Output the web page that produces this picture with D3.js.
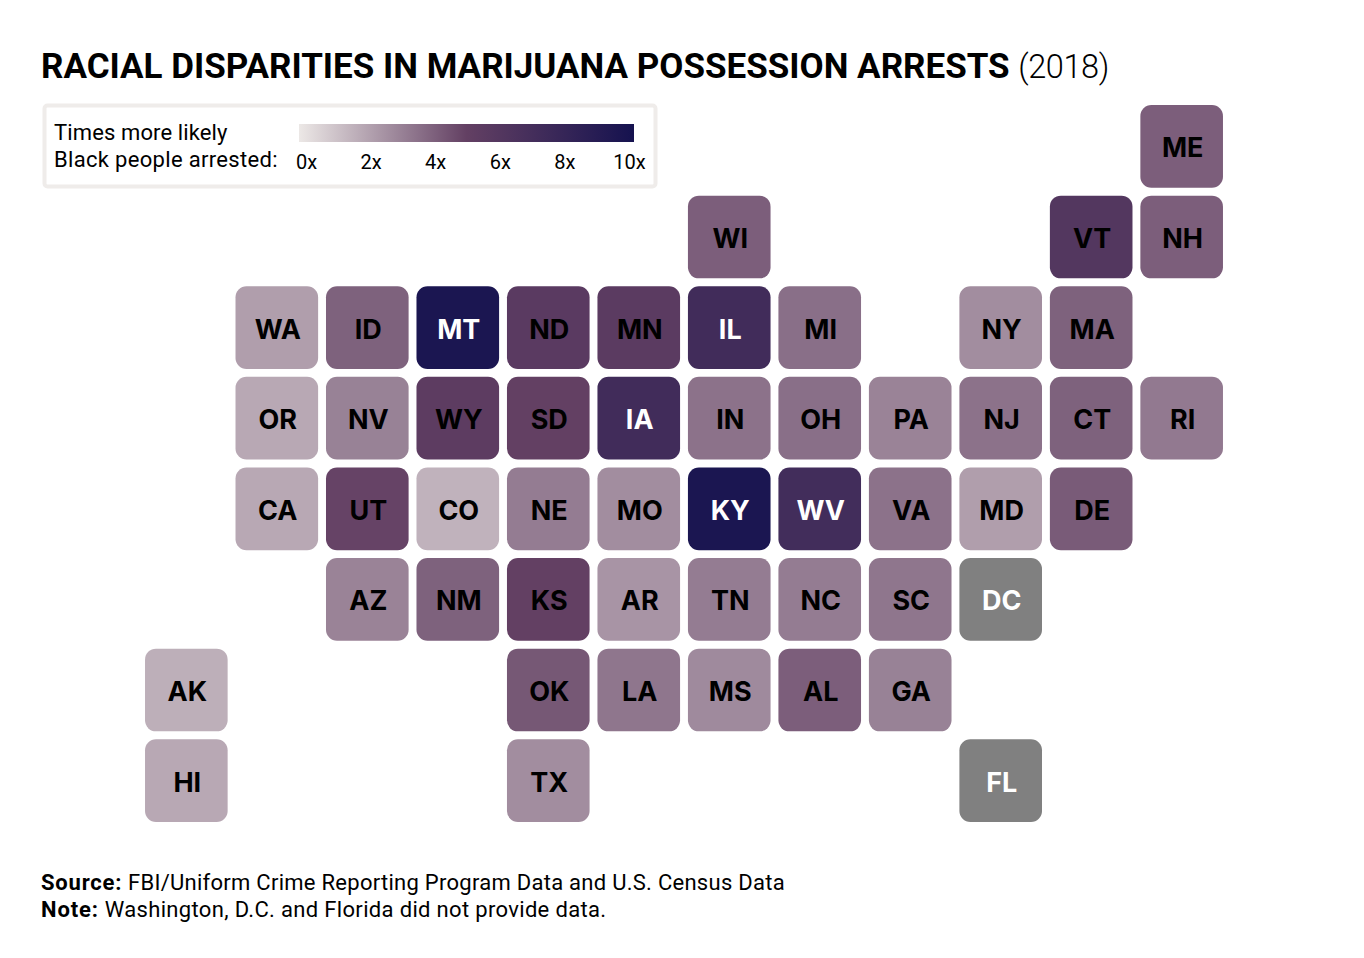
<!DOCTYPE html>
<html>
<head>
<meta charset="utf-8">
<script src="https://cdn.jsdelivr.net/npm/d3@7"></script>
<style>
  html, body { margin: 0; padding: 0; background: #fff; }
  svg { display: block; }
  text { font-family: Roboto, sans-serif; fill: #000; }
</style>
</head>
<body>
<svg id="chart" width="1364" height="958"></svg>
<script>
// tile map rows, null = empty cell
var grid_rows = [
  [null, null, null, null, null, null, null, null, null, null, null, "ME"],
  [null, null, null, null, null, null, "WI", null, null, null, "VT", "NH"],
  [null, "WA", "ID", "MT", "ND", "MN", "IL", "MI", null, "NY", "MA", null],
  [null, "OR", "NV", "WY", "SD", "IA", "IN", "OH", "PA", "NJ", "CT", "RI"],
  [null, "CA", "UT", "CO", "NE", "MO", "KY", "WV", "VA", "MD", "DE", null],
  [null, null, "AZ", "NM", "KS", "AR", "TN", "NC", "SC", "DC", null, null],
  ["AK", null, null, null, "OK", "LA", "MS", "AL", "GA", null, null, null],
  ["HI", null, null, null, "TX", null, null, null, null, "FL", null, null]
];

var states = ["ME","WI","VT","NH","WA","ID","MT","ND","MN","IL","MI","NY","MA",
  "OR","NV","WY","SD","IA","IN","OH","PA","NJ","CT","RI",
  "CA","UT","CO","NE","MO","KY","WV","VA","MD","DE",
  "AZ","NM","KS","AR","TN","NC","SC","DC",
  "AK","OK","LA","MS","AL","GA","HI","TX","FL"];

// read from the tile colours, null = no data
var ratios = [4.1,4.1,6.0,4.1,2.2,4.0,9.6,5.6,5.5,7.2,3.6,2.7,4.0,
  1.9,3.05,5.4,5.0,7.2,3.5,3.6,3.0,3.5,4.0,3.3,
  1.9,4.9,1.6,3.2,2.7,9.6,7.1,3.5,2.2,4.2,
  3.0,4.0,5.0,2.5,3.2,3.2,3.4,null,
  1.7,4.3,3.4,2.8,4.1,3.05,1.9,2.7,null];

var legend_ticks = [0, 2, 4, 6, 8, 10];
var color_stops = [0, 5, 10];
var color_range = ["#ece8e6", "#634063", "#15124f"];
var white_labels = ["MT", "IL", "IA", "KY", "WV", "DC", "FL"];

var svg = d3.select("#chart");

var color = d3.scaleLinear().domain(color_stops).range(color_range);

var ratio_by_state = {};
states.forEach(function(d, i){
  ratio_by_state[d] = ratios[i];
});

var x = d3.scaleBand().domain(d3.range(12)).range([140.5, 1227.5]).paddingInner(0.087).paddingOuter(0.05);
var y = d3.scaleBand().domain(d3.range(8)).range([100.5, 826.5]).paddingInner(0.087).paddingOuter(0.05);

var tiles = [];
grid_rows.forEach(function(row, r){
  row.forEach(function(s, c){
    if(s){
      tiles.push({state: s, row: r, col: c, ratio: ratio_by_state[s]});
    }
  });
});

// title
var title = svg.append("text")
  .attr("x", 41)
  .attr("y", 78)
  .style("font-size", "35px");
title.append("tspan").style("font-weight", 700).text("RACIAL DISPARITIES IN MARIJUANA POSSESSION ARRESTS");
title.append("tspan").attr("dx", 1).style("font-weight", 300).style("font-size", "32.5px").style("letter-spacing", "-0.4px").text(" (2018)");

// legend box
svg.append("rect")
  .attr("x", 44.5).attr("y", 105.5)
  .attr("width", 611).attr("height", 81)
  .attr("rx", 3)
  .attr("fill", "#fff")
  .attr("stroke", "#efecea")
  .attr("stroke-width", 4);

svg.append("text").attr("x", 54).attr("y", 140).style("font-size", "22px").style("letter-spacing", "0.12px").text("Times more likely");
svg.append("text").attr("x", 54).attr("y", 167).style("font-size", "22px").style("letter-spacing", "0.32px").text("Black people arrested:");

var gradient = svg.append("defs").append("linearGradient").attr("id", "legend_gradient");
gradient.selectAll("stop")
  .data(color_stops)
  .enter()
  .append("stop")
  .attr("offset", function(d){ return (d / 10 * 100) + "%"; })
  .attr("stop-color", function(d){ return color(d); });

svg.append("rect")
  .attr("x", 299).attr("y", 124)
  .attr("width", 335).attr("height", 18)
  .attr("fill", "url(#legend_gradient)");

var legend_x = d3.scaleLinear().domain([0, 10]).range([306, 629]);
var legend_axis = d3.axisBottom(legend_x)
  .tickValues(legend_ticks)
  .tickSize(0)
  .tickFormat(function(d){ return d + "x"; });

var legend_g = svg.append("g").attr("transform", "translate(0,152)").call(legend_axis);
legend_g.select(".domain").remove();
legend_g.selectAll("text")
  .style("font-family", "Roboto, sans-serif")
  .style("font-size", "20px");

// tiles
var tile = svg.selectAll(".tile")
  .data(tiles)
  .enter()
  .append("g")
  .attr("class", "tile")
  .attr("transform", function(d){
    return "translate(" + x(d.col) + "," + y(d.row) + ")";
  });

tile.append("rect")
  .attr("width", x.bandwidth())
  .attr("height", y.bandwidth())
  .attr("rx", 11)
  .attr("fill", function(d){
    return d.ratio == null ? "#808080" : color(d.ratio);
  });

tile.append("text")
  .attr("x", x.bandwidth() / 2 + 1)
  .attr("y", y.bandwidth() / 2 + 1)
  .attr("dy", "0.37em")
  .attr("text-anchor", "middle")
  .style("font-family", "Inter, sans-serif")
  .style("font-size", "27px")
  .style("font-weight", 700)
  .style("fill", function(d){
    return white_labels.indexOf(d.state) >= 0 ? "#fff" : "#000";
  })
  .text(function(d){ return d.state; });

// footer
var source = svg.append("text").attr("x", 41).attr("y", 890).style("font-size", "22px");
source.append("tspan").style("font-weight", 700).style("letter-spacing", "0.8px").text("Source:");
source.append("tspan").style("letter-spacing", "0.27px").text(" FBI/Uniform Crime Reporting Program Data and U.S. Census Data");

var note = svg.append("text").attr("x", 41).attr("y", 917).style("font-size", "22px");
note.append("tspan").style("font-weight", 700).style("letter-spacing", "0.9px").text("Note:");
note.append("tspan").style("letter-spacing", "0.33px").text(" Washington, D.C. and Florida did not provide data.");
</script>
</body>
</html>
